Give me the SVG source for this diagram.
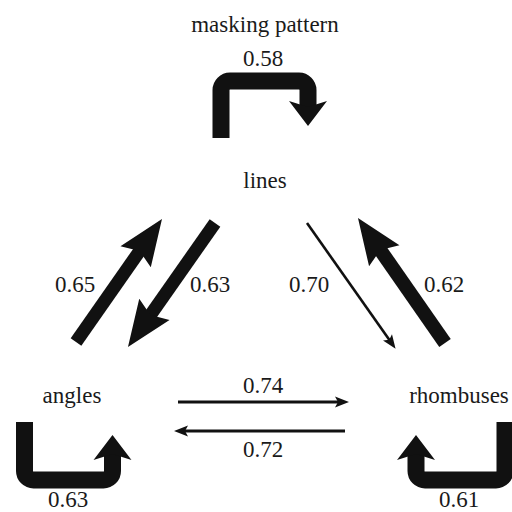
<svg xmlns="http://www.w3.org/2000/svg" width="512" height="512" viewBox="0 0 512 512">
<style>
text{font-family:'Liberation Serif','Times New Roman',Times,'Noto Serif',Tinos,FreeSerif,'DejaVu Serif',serif;font-size:23px;fill:#1a1a1a;text-anchor:middle}
.loop{fill:none;stroke:#111;stroke-width:17}
.thick{fill:none;stroke:#111;stroke-width:13}
.thin{fill:none;stroke:#111;stroke-width:2.6}
.mid{fill:none;stroke:#111;stroke-width:3}
</style>
<defs>
<marker id="headBig" markerUnits="userSpaceOnUse" markerWidth="60" markerHeight="60" viewBox="-5 -25 60 50" refX="12" refY="0" orient="auto" overflow="visible">
<path d="M0,-18.5 L46,0 L0,18.5 L7,0 Z" fill="#111"/>
</marker>
<marker id="headLoop" markerUnits="userSpaceOnUse" markerWidth="40" markerHeight="50" viewBox="-5 -25 40 50" refX="9" refY="0" orient="auto" overflow="visible">
<path d="M0,-19 L25,0 L0,19 L6,0 Z" fill="#111"/>
</marker>
<marker id="headSmall" markerUnits="userSpaceOnUse" markerWidth="20" markerHeight="20" viewBox="-2 -8 20 16" refX="4" refY="0" orient="auto" overflow="visible">
<path d="M0,-5.5 L14,0 L0,5.5 L3,0 Z" fill="#111"/>
</marker>
</defs>

<g id="node-masking"><text x="265" y="32">masking pattern</text></g>
<g id="node-lines"><text x="265" y="188">lines</text></g>
<g id="node-angles"><text x="72" y="403">angles</text></g>
<g id="node-rhombuses"><text x="459" y="403">rhombuses</text></g>

<g id="connectors">
<path class="loop" d="M221,138 V90 A9,9 0 0 1 230,81 H299 A9,9 0 0 1 308,90 V110" marker-end="url(#headLoop)"/>
<path class="loop" d="M24.5,422 V471 A9,9 0 0 0 33.5,480 H103.5 A9,9 0 0 0 112.5,471 V451" marker-end="url(#headLoop)"/>
<path class="loop" d="M505,422 V471 A9,9 0 0 1 496,480 H425 A9,9 0 0 1 416,471 V451" marker-end="url(#headLoop)"/>
<path class="thick" d="M76,342 L142.5,246.9" marker-end="url(#headBig)"/>
<path class="thick" d="M215,223 L147.5,319.2" marker-end="url(#headBig)"/>
<path class="thick" style="stroke-width:14" d="M445,343 L377.4,245.9" marker-end="url(#headBig)"/>
<path class="thin" d="M307,223 L389.8,340.6" marker-end="url(#headSmall)"/>
<path class="mid" d="M178,402 H339" marker-end="url(#headSmall)"/>
<path class="mid" d="M345,431 H184" marker-end="url(#headSmall)"/>
</g>

<g id="labels">
<text x="263" y="66">0.58</text>
<text x="75" y="292">0.65</text>
<text x="210" y="292">0.63</text>
<text x="309" y="292">0.70</text>
<text x="444" y="292">0.62</text>
<text x="263" y="393">0.74</text>
<text x="263" y="457">0.72</text>
<text x="68" y="507">0.63</text>
<text x="459" y="507">0.61</text>
</g>
</svg>
